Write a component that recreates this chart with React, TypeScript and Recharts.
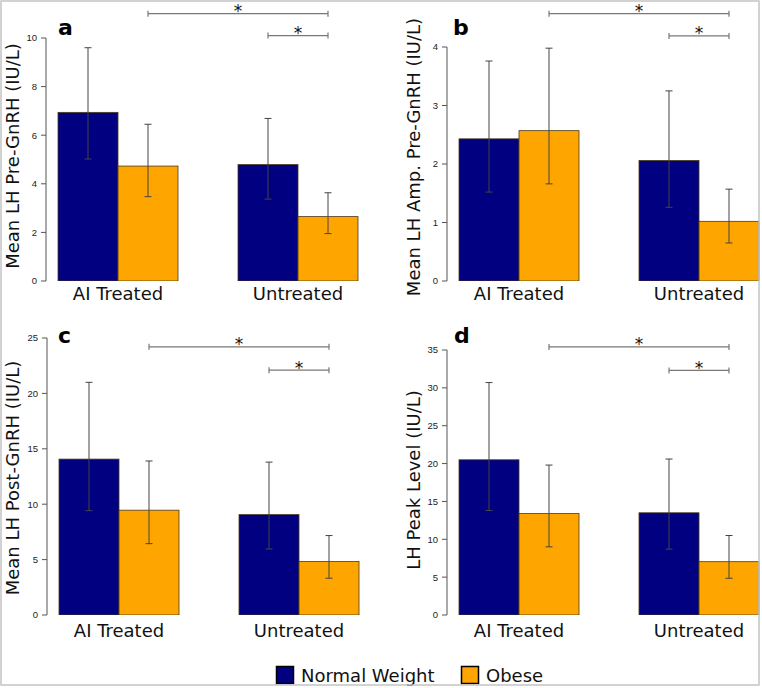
import React from "react";
import { BarChart, Bar, Cell, XAxis, YAxis, ErrorBar, ReferenceLine } from "recharts";

const groups = ["AI Treated", "Untreated"];
const seriesNames = ["Normal Weight", "Obese"];
const colors = ["#000080", "#FFA500"];

// a: Mean LH Pre-GnRH
const preNormal = [6.94, 4.79];
const preObese = [4.73, 2.65];
const preNormalLo = [5.02, 3.37];
const preNormalHi = [9.6, 6.69];
const preObeseLo = [3.47, 1.95];
const preObeseHi = [6.45, 3.63];

// b: Mean LH Amp. Pre-GnRH
const ampNormal = [2.43, 2.06];
const ampObese = [2.57, 1.02];
const ampNormalLo = [1.52, 1.26];
const ampNormalHi = [3.76, 3.25];
const ampObeseLo = [1.66, 0.65];
const ampObeseHi = [3.98, 1.57];

// c: Mean LH Post-GnRH
const postNormal = [14.07, 9.06];
const postObese = [9.46, 4.82];
const postNormalLo = [9.42, 5.96];
const postNormalHi = [21.0, 13.8];
const postObeseLo = [6.44, 3.32];
const postObeseHi = [13.9, 7.17];

// d: LH Peak Level
const peakNormal = [20.5, 13.5];
const peakObese = [13.4, 7.04];
const peakNormalLo = [13.8, 8.7];
const peakNormalHi = [30.7, 20.6];
const peakObeseLo = [9.0, 4.85];
const peakObeseHi = [19.8, 10.5];

const ticksA = [0, 2, 4, 6, 8, 10];
const ticksB = [0, 1, 2, 3, 4];
const ticksC = [0, 5, 10, 15, 20, 25];
const ticksD = [0, 5, 10, 15, 20, 25, 30, 35];

// significance bracket heights (long, short)
const sigA = [11.0, 10.1];
const sigB = [4.57, 4.19];
const sigC = [24.2, 22.1];
const sigD = [35.4, 32.3];

const FONT = "DejaVu Sans, Verdana, sans-serif";
const BAR_W = 60;

type Row = { x: number; s: number; v: number; err: [number, number] };

function buildRows(n: number[], o: number[], nLo: number[], nHi: number[], oLo: number[], oHi: number[]): Row[] {
  const rows: Row[] = [];
  groups.forEach((_, i) => {
    rows.push({ x: 1.5 + 3 * i, s: 0, v: n[i], err: [n[i] - nLo[i], nHi[i] - n[i]] });
    rows.push({ x: 2.5 + 3 * i, s: 1, v: o[i], err: [o[i] - oLo[i], oHi[i] - o[i]] });
  });
  return rows;
}

// full-width bar, centred on the library's bar position
const BarShape = (p: any) => {
  const cx = p.x + p.width / 2;
  return <rect x={cx - BAR_W / 2} y={p.y} width={BAR_W} height={p.height} fill={p.fill} stroke="#4a3a1a" strokeWidth={0.8} />;
};

const Bracket = (p: any) => {
  const { x1, y1, x2 } = p;
  return (
    <g>
      <line x1={x1} y1={y1} x2={x2} y2={y1} stroke="#777" strokeWidth={1.2} />
      <line x1={x1} y1={y1 - 3} x2={x1} y2={y1 + 3} stroke="#777" strokeWidth={1.2} />
      <line x1={x2} y1={y1 - 3} x2={x2} y2={y1 + 3} stroke="#777" strokeWidth={1.2} />
      <text x={(x1 + x2) / 2} y={y1 + 3.5} textAnchor="middle" fontSize={17} fontFamily={FONT} fill="#111">*</text>
    </g>
  );
};

function Panel(props: {
  rows: Row[]; ticks: number[]; sig: number[]; left: number; top: number;
  height: number; mTop: number; mBottom: number; yWidth: number; labelDy: number;
}) {
  const { rows, ticks, sig, left, top, height, mTop, mBottom, yWidth, labelDy } = props;
  const yMax = ticks[ticks.length - 1];
  const width = yWidth + 324 + 10;
  return (
    <div style={{ position: "absolute", left, top, width, height }}>
      <BarChart width={width} height={height} data={rows} barCategoryGap={0} barGap={0}
        margin={{ top: mTop, right: 10, bottom: mBottom, left: 0 }}>
        <XAxis
          type="number" dataKey="x" domain={[0.8, 6.2]} ticks={[2, 5]} allowDataOverflow
          axisLine={false} tickLine={false} tickSize={0} tickMargin={0} height={20}
          tick={(t: any) => (
            <text x={t.x} y={t.y + labelDy} textAnchor="middle" fontSize={18} fontFamily={FONT} fill="#111">
              {groups[t.payload.value === 2 ? 0 : 1]}
            </text>
          )}
        />
        <YAxis
          type="number" domain={[0, yMax]} ticks={ticks} width={yWidth} allowDataOverflow
          axisLine={{ stroke: "#555" }} tickLine={{ stroke: "#555" }} tickSize={5} tickMargin={4}
          tick={{ fontSize: 9.5, fill: "#222", fontFamily: "Liberation Sans, Arial, sans-serif" }}
        />
        <Bar dataKey="v" barSize={BAR_W} isAnimationActive={false} shape={BarShape}>
          {rows.map((r, i) => <Cell key={i} fill={colors[r.s]} />)}
          <ErrorBar dataKey="err" width={3.5} stroke="#444" strokeWidth={1} />
        </Bar>
        <ReferenceLine segment={[{ x: 2.5, y: sig[0] }, { x: 5.5, y: sig[0] }]} ifOverflow="visible" shape={Bracket} />
        <ReferenceLine segment={[{ x: 4.5, y: sig[1] }, { x: 5.5, y: sig[1] }]} ifOverflow="visible" shape={Bracket} />
      </BarChart>
    </div>
  );
}

const rowsA = buildRows(preNormal, preObese, preNormalLo, preNormalHi, preObeseLo, preObeseHi);
const rowsB = buildRows(ampNormal, ampObese, ampNormalLo, ampNormalHi, ampObeseLo, ampObeseHi);
const rowsC = buildRows(postNormal, postObese, postNormalLo, postNormalHi, postObeseLo, postObeseHi);
const rowsD = buildRows(peakNormal, peakObese, peakNormalLo, peakNormalHi, peakObeseLo, peakObeseHi);

const yTitles = [
  { text: "Mean LH Pre-GnRH (IU/L)", x: 12, y: 156 },
  { text: "Mean LH Amp. Pre-GnRH (IU/L)", x: 413, y: 157 },
  { text: "Mean LH Post-GnRH (IU/L)", x: 12, y: 478 },
  { text: "LH Peak Level (IU/L)", x: 413, y: 480 },
];
const letters = [
  { t: "a", x: 58, y: 35 },
  { t: "b", x: 453, y: 35 },
  { t: "c", x: 58, y: 343 },
  { t: "d", x: 454, y: 343 },
];

export default function App() {
  return (
    <div style={{ position: "absolute", left: 0, top: 0, width: 762, height: 688, overflow: "hidden", background: "#fff", fontFamily: FONT }}>
      <Panel rows={rowsA} ticks={ticksA} sig={sigA} left={0} top={0} height={320} mTop={38} mBottom={19} yWidth={46} labelDy={19} />
      <Panel rows={rowsB} ticks={ticksB} sig={sigB} left={380} top={0} height={320} mTop={47} mBottom={19} yWidth={67} labelDy={19} />
      <Panel rows={rowsC} ticks={ticksC} sig={sigC} left={0} top={300} height={360} mTop={38} mBottom={25} yWidth={47} labelDy={22} />
      <Panel rows={rowsD} ticks={ticksD} sig={sigD} left={380} top={300} height={360} mTop={50} mBottom={25} yWidth={67} labelDy={22} />
      <svg width={762} height={688} style={{ position: "absolute", left: 0, top: 0, pointerEvents: "none" }}>
        {yTitles.map((t, i) => (
          <text key={i} x={t.x} y={t.y} transform={`rotate(-90 ${t.x} ${t.y})`} textAnchor="middle" dominantBaseline="central" fontSize={18} fontFamily={FONT} fill="#111">
            {t.text}
          </text>
        ))}
        {letters.map((l, i) => (
          <text key={i} x={l.x} y={l.y} fontSize={22} fontWeight="bold" fontFamily={FONT} fill="#000">{l.t}</text>
        ))}
        <rect x={276.5} y={666.5} width={17} height={17} fill={colors[0]} stroke="#000" strokeWidth={1.5} />
        <text x={301} y={682} fontSize={18} fontFamily={FONT} fill="#111">{seriesNames[0]}</text>
        <rect x={461.5} y={666.5} width={17} height={17} fill={colors[1]} stroke="#000" strokeWidth={1.5} />
        <text x={486} y={682} fontSize={18} fontFamily={FONT} fill="#111">{seriesNames[1]}</text>
        <rect x={1} y={1} width={758} height={684} fill="none" stroke="#c4c4c4" strokeWidth={1.5} />
      </svg>
    </div>
  );
}
